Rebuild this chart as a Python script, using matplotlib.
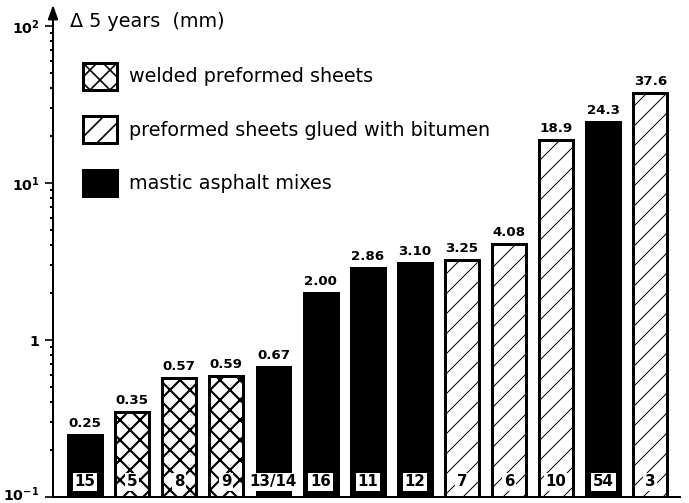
import numpy as np
import matplotlib
matplotlib.use("Agg")
import matplotlib.pyplot as plt
import matplotlib.transforms as mtransforms
from matplotlib.patches import Patch
from matplotlib.ticker import LogLocator, NullFormatter, FixedFormatter, FixedLocator

# settlement over 5 years per test section (mm)
sections = ['15', '5', '8', '9', '13/14', '16', '11', '12', '7', '6', '10', '54', '3']
delta_5y = [0.25, 0.35, 0.57, 0.59, 0.67, 2.00, 2.86, 3.10, 3.25, 4.08, 18.9, 24.3, 37.6]
materials = ['mastic', 'welded', 'welded', 'welded', 'mastic', 'mastic', 'mastic',
             'mastic', 'glued', 'glued', 'glued', 'mastic', 'glued']

legend_labels = {
    'welded': 'welded preformed sheets',
    'glued': 'preformed sheets glued with bitumen',
    'mastic': 'mastic asphalt mixes',
}
styles = {
    'welded': dict(facecolor='white', hatch='xx', hatch_lw=1.3),
    'glued': dict(facecolor='white', hatch='//', hatch_lw=0.6),
    'mastic': dict(facecolor='black', hatch=None, hatch_lw=1.0),
}

DPI = 120
plt.rcParams['font.family'] = 'DejaVu Sans'
fig = plt.figure(figsize=(689 / DPI, 503 / DPI), dpi=DPI)
ax = fig.add_axes([53 / 689, 6 / 503, 627 / 689, 471 / 503])


def make_bar(i, val, kind):
    st = styles[kind]
    with plt.rc_context({'hatch.linewidth': st['hatch_lw']}):
        b = ax.bar(i, val, width=0.72, bottom=0.1, facecolor=st['facecolor'],
                   edgecolor='black', linewidth=1.8, hatch=st['hatch'], zorder=2)
    for p in b.patches:
        if hasattr(p, 'set_hatch_linewidth'):
            p.set_hatch_linewidth(st['hatch_lw'])
    return b


for i, (val, kind) in enumerate(zip(delta_5y, materials)):
    make_bar(i, val - 0.1, kind)
    txt = f"{val:.2f}" if val < 10 else f"{val:.1f}"
    ax.annotate(txt, (i, val), xytext=(0, 3), textcoords='offset points',
                ha='center', va='bottom', fontsize=8, fontweight='bold')

# section numbers in white boxes at the foot of each bar
for i, name in enumerate(sections):
    ax.text(i, 0.032, name, transform=ax.get_xaxis_transform(), ha='center', va='center',
            fontsize=9, fontweight='bold', zorder=3,
            bbox=dict(boxstyle='square,pad=0.12', facecolor='white', edgecolor='none'))

ax.set_yscale('log')
ax.set_ylim(0.1, 100)
ax.set_xlim(-0.68, 12.63)

ax.yaxis.set_major_locator(FixedLocator([0.1, 1, 10, 100]))
ax.yaxis.set_major_formatter(FixedFormatter([r'$\mathbf{10^{-1}}$', r'$\mathbf{1}$',
                                             r'$\mathbf{10^{1}}$', r'$\mathbf{10^{2}}$']))
ax.yaxis.set_minor_locator(LogLocator(base=10, subs=np.arange(2, 10)))
ax.yaxis.set_minor_formatter(NullFormatter())
ax.tick_params(axis='y', which='major', length=5, width=1.0, labelsize=8.5, pad=3)
ax.tick_params(axis='y', which='minor', length=2, width=1.2)
ax.set_xticks([])

# lift the lowest tick label so it stays inside the figure
fig.canvas.draw()
lift = mtransforms.ScaledTranslation(0, 4 / DPI, fig.dpi_scale_trans)
low = ax.yaxis.get_majorticklabels()[0]
low.set_transform(low.get_transform() + lift)

for s in ['top', 'right']:
    ax.spines[s].set_visible(False)
ax.spines['left'].set_linewidth(1.2)
ax.spines['bottom'].set_linewidth(1.2)

# arrow on top of the y axis
ax.annotate('', xy=(0, 1.045), xytext=(0, 1.0), xycoords='axes fraction',
            arrowprops=dict(arrowstyle='-|>,head_length=0.7,head_width=0.25',
                            color='black', lw=1.2, shrinkA=0, shrinkB=0),
            annotation_clip=False)
ax.text(0.027, 1.0085, '\u0394 5 years  (mm)', transform=ax.transAxes,
        ha='left', va='center', fontsize=11.5, clip_on=False)

handles = []
for kind in ['welded', 'glued', 'mastic']:
    st = styles[kind]
    h = Patch(facecolor=st['facecolor'], edgecolor='black', linewidth=1.8,
              hatch=st['hatch'], label=legend_labels[kind])
    if hasattr(h, 'set_hatch_linewidth'):
        h.set_hatch_linewidth(st['hatch_lw'])
    handles.append(h)
ax.legend(handles=handles, loc='upper left', bbox_to_anchor=(0.0478, 0.9214),
          frameon=False, fontsize=11.5, handlelength=1.75, handleheight=1.75,
          labelspacing=1.4, handletextpad=0.65, borderpad=0, borderaxespad=0)

fig.savefig('out.png', dpi=DPI, facecolor='white')
